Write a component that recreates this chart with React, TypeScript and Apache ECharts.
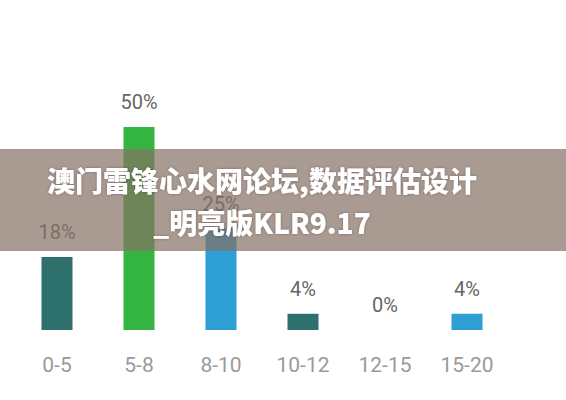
import React, { useEffect, useRef } from "react";
import * as echarts from "echarts";

const categories = ["0-5", "5-8", "8-10", "10-12", "12-15", "15-20"];
const values = [18, 50, 25, 4, 0, 4];
const barColors = ["#2e716c", "#34b541", "#2e9fd4", "#2e716c", "#2e716c", "#2e9fd4"];
const titleLines = ["澳门雷锋心水网论坛,数据评估设计", "_明亮版KLR9.17"];

export default function App() {
  const ref = useRef<HTMLDivElement>(null);
  useEffect(() => {
    if (!ref.current) return;
    const chart = echarts.init(ref.current, null, { renderer: "svg" });
    chart.setOption({
      animation: false,
      backgroundColor: "#ffffff",
      grid: { left: 16, right: 58, top: 127, bottom: 70 },
      xAxis: {
        type: "category",
        data: categories,
        axisLine: { show: false },
        axisTick: { show: false },
        axisLabel: {
          color: "#9a9a9a",
          fontSize: 21,
          fontFamily: "Roboto",
          margin: 24,
        },
      },
      yAxis: { type: "value", min: 0, max: 50, show: false },
      series: [
        {
          type: "bar",
          barWidth: 31,
          data: values.map((v, i) => ({ value: v, itemStyle: { color: barColors[i] } })),
          label: {
            show: true,
            position: "top",
            distance: 15,
            formatter: "{c}%",
            color: "#666666",
            fontSize: 20,
            fontFamily: "Roboto",
          },
        },
      ],
      graphic: [
        {
          type: "rect",
          shape: { x: 0, y: 149, width: 566, height: 102 },
          style: { fill: "rgba(134,113,100,0.7)" },
          z: 100,
        },
        {
          type: "text",
          x: 262,
          y: 180,
          z: 101,
          style: {
            text: titleLines[0],
            fill: "#ffffff",
            font: '900 28px "Noto Sans CJK SC"',
            textAlign: "center",
            textVerticalAlign: "middle",
            textShadowColor: "rgba(0,0,0,0.3)",
            textShadowBlur: 3,
          },
        },
        {
          type: "text",
          x: 262,
          y: 222,
          z: 101,
          style: {
            text: titleLines[1],
            fill: "#ffffff",
            font: '900 28px "Noto Sans CJK SC"',
            textAlign: "center",
            textVerticalAlign: "middle",
            textShadowColor: "rgba(0,0,0,0.3)",
            textShadowBlur: 3,
          },
        },
      ],
    });
    return () => chart.dispose();
  }, []);
  return (
    <div
      ref={ref}
      style={{ position: "fixed", left: 0, top: 0, width: 566, height: 400 }}
    />
  );
}
